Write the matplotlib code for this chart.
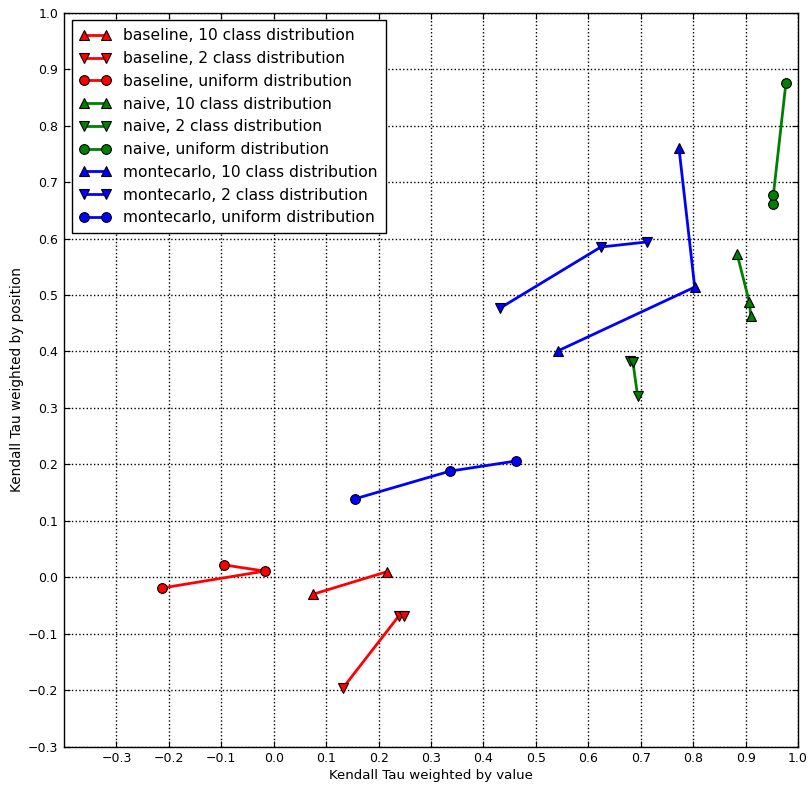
import matplotlib
matplotlib.use("Agg")
import matplotlib.pyplot as plt

# Kendall Tau results: (weighted by value, weighted by position)
baseline_10_x = [0.075, 0.216]
baseline_10_y = [-0.030, 0.010]
baseline_2_x = [0.132, 0.239, 0.248]
baseline_2_y = [-0.196, -0.068, -0.068]
baseline_u_x = [-0.213, -0.017, -0.095]
baseline_u_y = [-0.019, 0.011, 0.022]

naive_10_x = [0.884, 0.907, 0.910]
naive_10_y = [0.572, 0.488, 0.463]
naive_2_x = [0.680, 0.685, 0.694]
naive_2_y = [0.384, 0.382, 0.322]
naive_u_x = [0.953, 0.953, 0.977]
naive_u_y = [0.661, 0.677, 0.876]

monte_10_x = [0.542, 0.803, 0.773]
monte_10_y = [0.401, 0.514, 0.760]
monte_2_x = [0.432, 0.624, 0.712]
monte_2_y = [0.477, 0.585, 0.594]
monte_u_x = [0.155, 0.336, 0.462]
monte_u_y = [0.139, 0.188, 0.206]

x_ticks = [-0.3, -0.2, -0.1, 0.0, 0.1, 0.2, 0.3, 0.4, 0.5, 0.6, 0.7, 0.8, 0.9, 1.0]
y_ticks = [-0.3, -0.2, -0.1, 0.0, 0.1, 0.2, 0.3, 0.4, 0.5, 0.6, 0.7, 0.8, 0.9, 1.0]

series = [
    (baseline_10_x, baseline_10_y, "r", "^", "baseline, 10 class distribution"),
    (baseline_2_x, baseline_2_y, "r", "v", "baseline, 2 class distribution"),
    (baseline_u_x, baseline_u_y, "r", "o", "baseline, uniform distribution"),
    (naive_10_x, naive_10_y, "g", "^", "naive, 10 class distribution"),
    (naive_2_x, naive_2_y, "g", "v", "naive, 2 class distribution"),
    (naive_u_x, naive_u_y, "g", "o", "naive, uniform distribution"),
    (monte_10_x, monte_10_y, "b", "^", "montecarlo, 10 class distribution"),
    (monte_2_x, monte_2_y, "b", "v", "montecarlo, 2 class distribution"),
    (monte_u_x, monte_u_y, "b", "o", "montecarlo, uniform distribution"),
]

W, H = 811, 788
fig = plt.figure(figsize=(W / 100, H / 100), dpi=100, facecolor="white")
left, right, top, bottom = 64, 798, 12.7, 746.7
ax = fig.add_axes([left / W, 1 - bottom / H, (right - left) / W, (bottom - top) / H])

for xs, ys, c, m, lab in series:
    ax.plot(xs, ys, color=c, marker=m, linewidth=2, markersize=7,
            markeredgecolor="black", markeredgewidth=0.8, label=lab)

ax.set_xlim(-0.4, 1.0)
ax.set_ylim(-0.3, 1.0)
ax.set_xticks(x_ticks)
ax.set_yticks(y_ticks)
ax.tick_params(direction="in", top=True, right=True, length=4, labelsize=9, pad=4)
ax.grid(True, color="black", linestyle=":", linewidth=1)
for s in ax.spines.values():
    s.set_linewidth(1)

ax.set_xlabel("Kendall Tau weighted by value", fontsize=9.6, labelpad=3)
ax.set_ylabel("Kendall Tau weighted by position", fontsize=9.8, labelpad=3)

leg = ax.legend(loc="upper left", numpoints=2, fontsize=11.2, fancybox=False,
                framealpha=1, edgecolor="black", handlelength=2,
                borderaxespad=0.5, labelspacing=0.5, borderpad=0.5,
                handletextpad=0.8)
leg.get_frame().set_linewidth(1)

fig.savefig("out.png", dpi=100, facecolor="white")
